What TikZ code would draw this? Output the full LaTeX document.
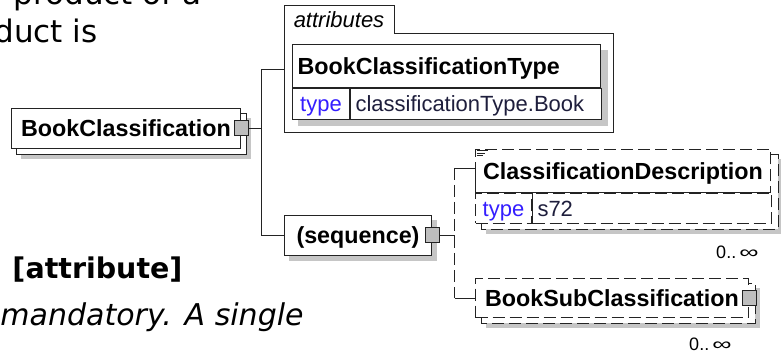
\documentclass[tikz,border=0pt]{standalone}
\usepackage{fontspec}
\setmainfont{Liberation Sans}
\newfontfamily\versefont{DejaVu Sans}
\usetikzlibrary{positioning,calc}
\pgfdeclarelayer{shadelayer}
\pgfdeclarelayer{copylayer}
\pgfsetlayers{shadelayer,copylayer,main}
\definecolor{shadowgrey}{RGB}{198,198,198}
\definecolor{boxline}{RGB}{35,35,35}
\definecolor{typeblue}{RGB}{52,30,255}
\definecolor{conngrey}{RGB}{190,190,190}
\definecolor{valtextcol}{RGB}{30,30,60}

\begin{document}
\begin{tikzpicture}[
    x=1pt, y=-1pt,
    line width=1pt,
    elbox/.style={draw=boxline, fill=white, inner sep=0pt, anchor=north west},
    optbox/.style={elbox, dash pattern=on 12pt off 5pt},
    elname/.style={font=\fontsize{23.3}{26}\selectfont\bfseries, text height=16.5pt, text depth=0pt},
    typelbl/.style={font=\fontsize{22}{24}\selectfont, text=typeblue, text height=16pt, text depth=0pt},
    typeval/.style={font=\fontsize{22}{24}\selectfont, text=valtextcol, text height=16pt, text depth=0pt, align=left, inner xsep=5pt},
    conn/.style={draw=boxline, fill=conngrey, minimum width=14pt, minimum height=15pt, inner sep=0pt},
    link/.style={draw=boxline},
    optlink/.style={draw=boxline, dash pattern=on 12pt off 5pt},
    mult/.style={font=\fontsize{18}{20}\selectfont, inner sep=0pt},
    bodytext/.style={font=\versefont\fontsize{31}{38}\selectfont, inner sep=0pt}
]
\useasboundingbox (0,0) rectangle (781,355);
\clip (0,0) rectangle (781,355);

% text of the page around the diagram
\node[bodytext, anchor=base east] (line1) at (202,5) {product of a};
\node[bodytext, anchor=base east] (line2) at (98,43) {duct is};
\node[bodytext, font=\versefont\bfseries\fontsize{28.5}{32}\selectfont, anchor=base west] (attrhead) at (12,278) {[attribute]};
\node[bodytext, font=\versefont\itshape\fontsize{30}{36}\selectfont, anchor=base west] (attrnote) at (0,325) {mandatory. A single};

% root element
\node[elbox, elname, minimum width=229pt, minimum height=40pt] (bc) at (11,108) {BookClassification};
\node[conn] (bcconn) at (bc.east) {};

% attributes group
\node[inner sep=0pt, minimum width=328pt, minimum height=126pt, anchor=north west] (attr) at (284,6) {};
\node[inner sep=0pt, minimum width=109pt, minimum height=27pt, anchor=north west,
      font=\fontsize{22}{24}\selectfont\itshape, text height=16pt, text depth=0pt] (attrlbl) at (attr.north west) {attributes};
\draw[boxline] (attr.south west) -- (attr.north west) -- (attrlbl.north east) -- (attrlbl.south east)
    -- (attrlbl.south -| attr.east) -- (attr.south east) -- cycle;

\node[elbox, elname, text width=298pt, inner xsep=5pt, minimum height=43pt, align=left] (bct) at (292,44) {BookClassificationType};
\node[elbox, typelbl, minimum width=57pt, minimum height=31pt] (bcttype) at (bct.south west) {type};
\node[elbox, typeval, text width=241pt, minimum height=31pt] (bctval) at (bcttype.north east) {classificationType.Book};

% sequence
\node[elbox, elname, minimum width=147pt, minimum height=40pt] (seq) at (284,215) {(sequence)};
\node[conn] (seqconn) at (seq.east) {};

% optional children
\node[optbox, elname, minimum width=295pt, minimum height=43pt] (cdhead) at (475,149) {ClassificationDescription};
\node[optbox, typelbl, minimum width=56pt, minimum height=30pt] (cdtype) at (cdhead.south west) {type};
\node[optbox, typeval, text width=229pt, minimum height=30pt] (cdval) at (cdtype.north east) {s72};
\coordinate (cdin) at ($(cdhead.north west)+(0,19)$);
\draw[boxline] (cdhead.south west) -- (cdhead.south east);
\draw[boxline] (cdtype.north east) -- (cdtype.south east);
\draw[boxline] (cdin) -- (cdhead.south west);
\draw[boxline, line width=0.7pt] ($(cdhead.north west)+(1.5,1.5)$) -- +(11,0)
    ($(cdhead.north west)+(1.5,4)$) -- +(8,0)
    ($(cdhead.north west)+(1.5,6.5)$) -- +(6,0);
\node[mult, anchor=east] (cdmult) at ($(cdval.south east)+(-13,28)$) {0..\,\scalebox{1.5}[1]{∞}};

\node[optbox, elname, minimum width=273pt, minimum height=39pt] (bsub) at (475,278) {BookSubClassification};
\node[conn] (bsubconn) at (bsub.east) {};
\node[mult, anchor=east] (bsubmult) at ($(bsub.south east)+(-17,26)$) {0..\,\scalebox{1.5}[1]{∞}};

% copies and shadows
\begin{pgfonlayer}{shadelayer}
\fill[white] (0,0) rectangle (781,355);
\fill[shadowgrey] ($(bc.north west)+(10,10)$) rectangle ($(bc.south east)+(10,10)$);
\fill[shadowgrey] ($(bct.north west)+(6,6)$) rectangle ($(bctval.south east)+(6,6)$);
\fill[shadowgrey] ($(seq.north west)+(5,5)$) rectangle ($(seq.south east)+(5,5)$);
\fill[shadowgrey] ($(cdhead.north west)+(11,10)$) rectangle ($(cdval.south east)+(11,10)$);
\fill[shadowgrey] ($(bsub.north west)+(11,10)$) rectangle ($(bsub.south east)+(11,10)$);
\end{pgfonlayer}
\begin{pgfonlayer}{copylayer}
\draw[boxline, fill=white] ($(bc.north west)+(5,5)$) rectangle ($(bc.south east)+(5,5)$);
\draw[boxline, fill=white, dash pattern=on 12pt off 5pt] ($(cdhead.north west)+(6,5)$) rectangle ($(cdval.south east)+(6,5)$);
\draw[boxline, fill=white, dash pattern=on 12pt off 5pt] ($(bsub.north west)+(6,5)$) rectangle ($(bsub.south east)+(6,5)$);
\end{pgfonlayer}

% connectors
\coordinate (bcfork) at ($(bcconn.east)+(13,0)$);
\draw[link] (bcconn.east) -- (bcfork);
\draw[link] (attr.west) -| (bcfork) |- (seq.west);

\coordinate (seqfork) at ($(seqconn.east)+(15,0)$);
\draw[link] (seqconn.east) -- (seqfork);
\draw[optlink] (seqfork |- cdin) -- (seqfork |- bsub.west);
\draw[link] (seqfork |- cdin) -- (cdin);
\draw[link] (seqfork |- bsub.west) -- (bsub.west);
\end{tikzpicture}
\end{document}
